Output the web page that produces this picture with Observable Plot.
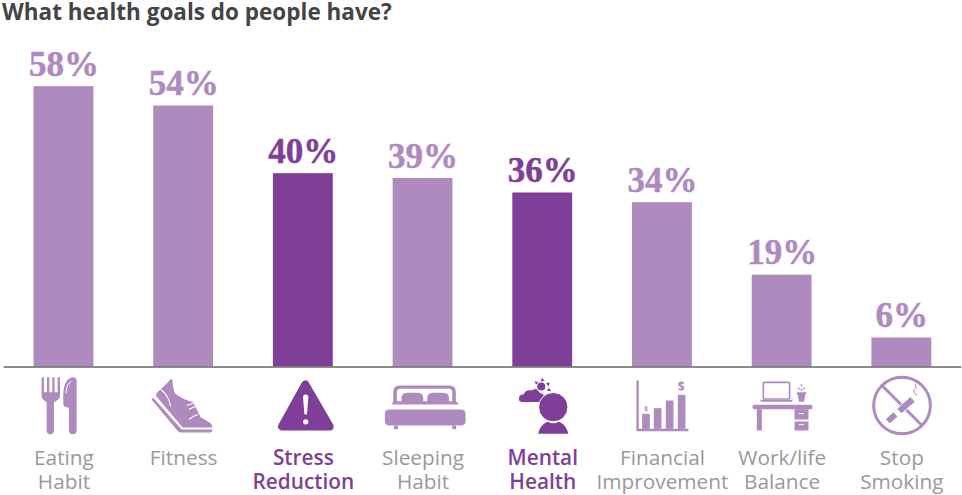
<!DOCTYPE html>
<html><head><meta charset="utf-8">
<script src="https://cdn.jsdelivr.net/npm/d3@7"></script>
<script src="https://cdn.jsdelivr.net/npm/@observablehq/plot@0.6"></script>
<style>
html,body{margin:0;padding:0;background:#fff}
#t{font:700 22.5px/23px "Open Sans",sans-serif;color:#444;padding-left:2px;height:22px;white-space:nowrap;position:relative;z-index:2}
svg{display:block}
</style></head><body>
<div id="t">What health goals do people have?</div>
<div id="c"></div>
<script>
const categories = ["Eating\nHabit","Fitness","Stress\nReduction","Sleeping\nHabit","Mental\nHealth","Financial\nImprovement","Work/life\nBalance","Stop\nSmoking"];
const values = [58,54,40,39,36,34,19,6];
const highlighted = [false,false,true,false,true,false,false,false];
const LIGHT = "#af8abf", DARK = "#7f3f98", GREY = "#999999";

const svgIcon = (vbx, body) => "data:image/svg+xml;utf8," + encodeURIComponent(
  `<svg xmlns="http://www.w3.org/2000/svg" width="100" height="70" viewBox="${vbx} 18 300 210">${body}</svg>`);
const iconBodies = [
 [40, `<g fill="${LIGHT}"><path d="M123 50H130V95H139V50H146V95H155V50H162V95H171V50H178V105Q178 118 160 125V210Q160 221 149 221Q138 221 138 210V125Q123 118 123 105Z"/><path d="M228 60Q228 50 215 50Q190 55 188 100V130Q188 140 205 142V210Q205 221 217 221Q228 221 228 210Z"/></g><path d="M196 98Q198 70 212 62" fill="none" stroke="#fff" stroke-width="3"/>`],
 [399, `<g fill="${LIGHT}"><path d="M511 55Q518 58 516 72L522 98Q548 118 578 125Q590 150 600 170L630 188Q636 194 635 201L546 201L465 105Q470 92 480 86Q497 72 511 55Z"/><path d="M453 118L457 111L543 207H635V211Q634 216 628 216H541Q535 216 530 210Z"/></g><g fill="none" stroke="#fff" stroke-width="3.5"><path d="M480 86Q505 105 510 138"/><path d="M558 135Q572 130 586 125L588 136L565 146"/><path d="M565 176Q580 166 592 162"/></g>`],
 [759, `<path d="M915 72L845 198H988Z" fill="${DARK}" stroke="${DARK}" stroke-width="24" stroke-linejoin="round"/><path d="M908 110Q908 102 916 102Q924 102 924 110L920 160Q916 166 912 160Z" fill="#fff"/><circle cx="916" cy="184" r="8" fill="#fff"/>`],
 [1117.5, `<g fill="${LIGHT}"><path d="M1178 125V95Q1178 75 1198 75H1346Q1366 75 1366 95V125H1355V96Q1355 85 1344 85H1200Q1189 85 1189 96V125Z"/><path d="M1203 125V110Q1205 97 1222 97H1250Q1267 97 1268 110V125Z"/><path d="M1280 125V110Q1282 97 1299 97H1327Q1344 97 1345 110V125Z"/><path d="M1175 130Q1175 125 1180 122H1365Q1372 125 1375 132H1175Z"/><path d="M1153 160Q1153 148 1165 147H1383Q1395 148 1395 160V182Q1395 195 1380 195H1168Q1153 195 1153 182Z"/><rect x="1180" y="195" width="12" height="11"/><rect x="1355" y="195" width="12" height="11"/></g>`],
 [37.5, `<g fill="${DARK}"><circle cx="183" cy="78" r="12"/><path d="M163 62l12 3-8 7ZM186 52l7 10-12 0ZM208 65l-3 12-8-8ZM213 92l-13-1 6-9Z"/><path d="M124 126Q112 122 115 110Q118 100 130 100Q135 85 155 88Q170 78 178 95Q195 100 195 115Q190 126 180 126Z" stroke="#fff" stroke-width="3"/><circle cx="219" cy="140" r="44" stroke="#fff" stroke-width="3"/><path d="M174 220C178 200 190 188 203 184Q219 193 235 184C248 188 260 200 264 220Z"/></g>`],
 [396, `<g fill="${LIGHT}"><path d="M468 60H475V205H624V212H468Z"/><rect x="485" y="160" width="23" height="45"/><rect x="520" y="143" width="23" height="62"/><rect x="556" y="120" width="23" height="85"/><rect x="592" y="103" width="23" height="102"/><text x="497" y="151" font-family="Open Sans" font-weight="700" font-size="19" text-anchor="middle">$</text><text x="602" y="92" font-family="Open Sans" font-weight="700" font-size="36" text-anchor="middle">$</text></g>`],
 [756, `<g fill="${LIGHT}"><rect x="817" y="133" width="180" height="13" rx="6"/><rect x="830" y="146" width="15" height="64"/><rect x="943" y="146" width="42" height="31"/><rect x="943" y="183" width="42" height="27"/><path d="M840 118H938Q938 124 932 124H846Q840 124 840 118Z"/><path d="M950 95H978V102H975L972 124H956L953 102H950Z"/><circle cx="964" cy="74" r="3"/><circle cx="956" cy="84" r="3"/><circle cx="971" cy="84" r="3"/><circle cx="964" cy="88" r="3"/></g><rect x="849.5" y="65.5" width="79" height="50" rx="3" fill="none" stroke="${LIGHT}" stroke-width="5"/><g fill="#fff"><rect x="956" y="158" width="16" height="3"/><rect x="956" y="191" width="16" height="3"/></g>`],
 [1114.5, `<circle cx="1265" cy="135" r="85" fill="none" stroke="${LIGHT}" stroke-width="9"/><path d="M1205 75L1325 195" stroke="${LIGHT}" stroke-width="9"/><path d="M1228 190L1215 176L1290 108L1305 124Z" fill="${LIGHT}" stroke="#fff" stroke-width="3"/><path d="M1245 150L1262 168" stroke="#fff" stroke-width="16"/><path d="M1310 105Q1296 95 1302 88Q1312 82 1304 70" fill="none" stroke="${LIGHT}" stroke-width="3"/>`]
];
const icons = iconBodies.map(([x, b]) => svgIcon(x, b));

const rows = categories.map((c, i) => ({c, v: values[i], hi: highlighted[i], icon: icons[i], col: highlighted[i] ? DARK : LIGHT}));
const font = '"Open Sans", sans-serif';

document.getElementById("c").append(Plot.plot({
  width: 962, height: 473,
  marginLeft: 3.6, marginRight: 0.8, marginTop: 54.5, marginBottom: 128.5,
  style: {background: "#fff", overflow: "visible"},
  x: {domain: categories, axis: null, paddingInner: 0.5, paddingOuter: 0.25, align: 0.5, round: false},
  y: {domain: [0, 60], axis: null},
  marks: [
    Plot.barY(rows, {x: "c", y: "v", fill: "col"}),
    Plot.ruleY([0], {stroke: "#666", strokeWidth: 1.3}),
    Plot.text(rows, {x: "c", y: "v", text: d => d.v + "%", fill: "col", stroke: "col", strokeWidth: 0.5, dy: -11, lineAnchor: "bottom",
      fontFamily: '"Liberation Serif", serif', fontWeight: 700, fontSize: 35}),
    Plot.image(rows, {x: "c", y: () => 0, src: "icon", width: 100, height: 70, dy: 34.5}),
    Plot.text(rows.filter(d => !d.hi), {x: "c", y: () => 0, text: "c", fill: GREY, lineAnchor: "top", dy: 80,
      fontFamily: font, fontSize: 20.8, lineHeight: 1.19}),
    Plot.text(rows.filter(d => d.hi), {x: "c", y: () => 0, text: "c", fill: DARK, lineAnchor: "top", dy: 80,
      fontFamily: font, fontWeight: 600, fontSize: 20.8, lineHeight: 1.19})
  ]
}));
</script>
</body></html>
